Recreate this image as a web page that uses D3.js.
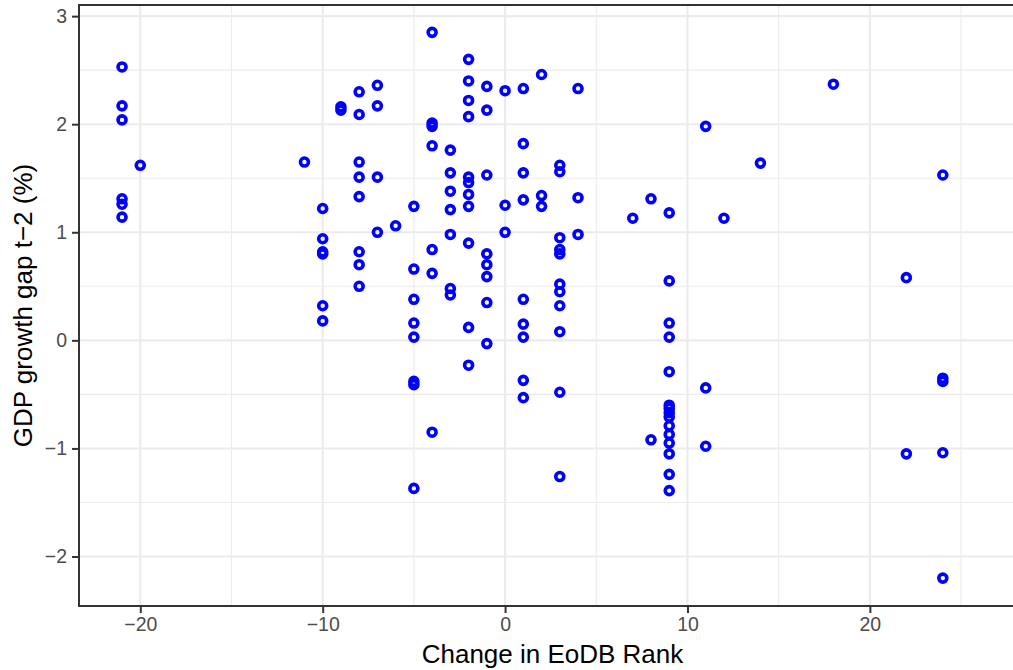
<!DOCTYPE html>
<html>
<head>
<meta charset="utf-8">
<script src="https://cdn.jsdelivr.net/npm/d3@7"></script>
<style>
  body { margin: 0; background: #fff; }
  svg { font-family: "Liberation Sans", Arial, sans-serif; }
  .grid line { stroke: #ebebeb; }
  .axis text { fill: #4d4d4d; font-size: 19.5px; }
  .axis line { stroke: #333; stroke-width: 2; }
  .axis path { display: none; }
  .title { font-size: 26px; fill: #000; }
</style>
</head>
<body>
<div id="chart"></div>
<script>
// x positions of the rank-change columns and the y values found in each
var rankCols = [-21, -20, -11, -10, -9, -8, -7, -6, -5, -4, -3, -2, -1, 0, 1, 2, 3, 4, 7, 8, 9, 11, 12, 14, 18, 22, 24];
var gapByCol = [
  [2.53, 2.17, 2.04, 1.31, 1.26, 1.14],
  [1.62],
  [1.65],
  [1.22, 0.94, 0.82, 0.80, 0.32, 0.18],
  [2.16, 2.13],
  [2.30, 2.09, 1.65, 1.51, 1.33, 0.82, 0.70, 0.50],
  [2.36, 2.17, 1.51, 1.00],
  [1.06],
  [1.24, 0.66, 0.38, 0.16, 0.03, -0.38, -0.41, -1.37],
  [2.85, 2.01, 1.98, 1.80, 0.84, 0.62, -0.85],
  [1.76, 1.55, 1.38, 1.21, 0.98, 0.48, 0.42],
  [2.60, 2.40, 2.22, 2.07, 1.51, 1.46, 1.35, 1.24, 0.90, 0.12, -0.23],
  [2.35, 2.13, 1.53, 0.80, 0.70, 0.59, 0.35, -0.03],
  [2.31, 1.25, 1.00],
  [2.33, 1.82, 1.55, 1.30, 0.38, 0.15, 0.03, -0.37, -0.53],
  [2.46, 1.34, 1.24],
  [1.62, 1.56, 0.95, 0.84, 0.80, 0.52, 0.45, 0.32, 0.08, -0.48, -1.26],
  [2.33, 1.32, 0.98],
  [1.13],
  [1.31, -0.92],
  [1.18, 0.55, 0.16, 0.03, -0.29, -0.60, -0.63, -0.67, -0.71, -0.79, -0.87, -0.95, -1.05, -1.24, -1.39],
  [1.98, -0.44, -0.98],
  [1.13],
  [1.64],
  [2.37],
  [0.58, -1.05],
  [1.53, -0.35, -0.38, -1.04, -2.20]
];
var xTicks = [-20, -10, 0, 10, 20];
var xMinor = [-15, -5, 5, 15, 25];
var yTicks = [-2, -1, 0, 1, 2, 3];
var yMinor = [-1.5, -0.5, 0.5, 1.5, 2.5];

var points = [];
rankCols.forEach(function (r, i) {
  gapByCol[i].forEach(function (g) { points.push({ x: r, y: g }); });
});

var width = 1013, height = 670;
var panel = { left: 79, top: 5, right: 1026, bottom: 606 };

var x = d3.scaleLinear().domain([-23.36, 28.56]).range([panel.left, panel.right]);
var y = d3.scaleLinear().domain([-2.458, 3.103]).range([panel.bottom, panel.top]);

var svg = d3.select("#chart").append("svg")
  .attr("width", width)
  .attr("height", height);

var grid = svg.append("g").attr("class", "grid");

// minor grid first, then major
grid.selectAll(".xminor").data(xMinor).enter().append("line")
  .attr("x1", d => x(d)).attr("x2", d => x(d))
  .attr("y1", panel.top).attr("y2", panel.bottom)
  .attr("stroke-width", 1.1);
grid.selectAll(".yminor").data(yMinor).enter().append("line")
  .attr("y1", d => y(d)).attr("y2", d => y(d))
  .attr("x1", panel.left).attr("x2", panel.right)
  .attr("stroke-width", 1.1);
grid.selectAll(".xmajor").data(xTicks).enter().append("line")
  .attr("x1", d => x(d)).attr("x2", d => x(d))
  .attr("y1", panel.top).attr("y2", panel.bottom)
  .attr("stroke-width", 2.1);
grid.selectAll(".ymajor").data(yTicks).enter().append("line")
  .attr("y1", d => y(d)).attr("y2", d => y(d))
  .attr("x1", panel.left).attr("x2", panel.right)
  .attr("stroke-width", 2.1);

// points
svg.append("g").selectAll("circle").data(points).enter().append("circle")
  .attr("cx", d => x(d.x))
  .attr("cy", d => y(d.y))
  .attr("r", 4)
  .attr("fill", "none")
  .attr("stroke", "#0000ff")
  .attr("stroke-width", 3.6);

// panel border
svg.append("rect")
  .attr("x", panel.left).attr("y", panel.top)
  .attr("width", panel.right - panel.left)
  .attr("height", panel.bottom - panel.top)
  .attr("fill", "none")
  .attr("stroke", "#333")
  .attr("stroke-width", 2);

var fmt = d => d < 0 ? "\u2212" + Math.abs(d) : String(d);

svg.append("g")
  .attr("class", "axis")
  .attr("transform", "translate(0," + panel.bottom + ")")
  .call(d3.axisBottom(x).tickValues(xTicks).tickFormat(fmt).tickSize(7).tickPadding(4));

svg.append("g")
  .attr("class", "axis")
  .attr("transform", "translate(" + panel.left + ",0)")
  .call(d3.axisLeft(y).tickValues(yTicks).tickFormat(fmt).tickSize(7).tickPadding(5));

svg.append("text")
  .attr("class", "title")
  .attr("x", (panel.left + panel.right) / 2)
  .attr("y", 663)
  .attr("text-anchor", "middle")
  .text("Change in EoDB Rank");

svg.append("text")
  .attr("class", "title")
  .attr("transform", "translate(32," + ((panel.top + panel.bottom) / 2) + ") rotate(-90)")
  .attr("text-anchor", "middle")
  .text("GDP growth gap t\u22122 (%)");
</script>
</body>
</html>
